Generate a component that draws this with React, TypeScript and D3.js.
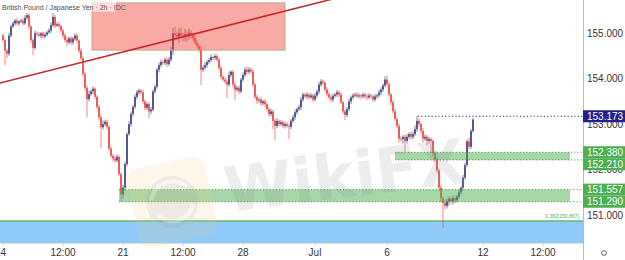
import React from "react";
import * as d3 from "d3";

// GBP/JPY 2h closes, Jun 14 – Jul 9 (12 bars per trading day)
const closes: number[] = [
  154.85, 154.62, 154.55, 154.95, 155.15, 155.22, 155.28, 155.22, 155.26, 155.28, 155.22, 155.34,
  155.40, 155.15, 154.85, 154.68, 155.00, 154.98, 154.95, 155.00, 154.93, 154.97, 155.02, 155.06,
  155.18, 155.36, 155.17, 155.20, 155.16, 155.06, 154.95, 154.85, 154.80, 154.89, 154.80, 154.88,
  154.95, 154.84, 154.62, 154.45, 154.10, 153.80, 153.55, 153.66, 153.72, 153.78, 153.60, 153.38,
  153.15, 152.93, 153.00, 153.05, 152.94, 152.46, 152.30, 152.24, 152.20, 152.28, 151.90, 151.45,
  151.60, 152.12, 152.78, 153.00, 153.22, 153.38, 153.60, 153.70, 153.74, 153.70, 153.50, 153.36,
  153.44, 153.28, 153.32, 153.72, 153.82, 154.20, 154.30, 154.37, 154.35, 154.42, 154.32, 154.42,
  154.62, 155.00, 154.96, 154.93, 155.00, 154.95, 154.92, 154.98, 154.94, 155.01, 154.96, 154.90,
  154.80, 154.72, 154.64, 154.20, 154.24, 154.30, 154.37, 154.41, 154.48, 154.46, 154.50, 154.42,
  154.24, 154.04, 153.98, 153.94, 153.87, 154.08, 154.15, 153.87, 153.76, 153.80, 153.72, 153.98,
  154.08, 154.20, 154.15, 154.20, 154.16, 153.87, 153.60, 153.52, 153.54, 153.46, 153.50, 153.44,
  153.33, 153.22, 153.28, 153.07, 152.96, 153.07, 153.00, 153.04, 152.96, 153.00, 152.96, 152.94,
  153.07, 153.15, 153.26, 153.33, 153.37, 153.54, 153.65, 153.61, 153.65, 153.59, 153.63, 153.54,
  153.63, 153.72, 153.87, 153.94, 153.91, 153.76, 153.66, 153.59, 153.54, 153.62, 153.65, 153.70,
  153.65, 153.48, 153.28, 153.20, 153.33, 153.50, 153.59, 153.63, 153.65, 153.61, 153.63, 153.61,
  153.65, 153.61, 153.59, 153.63, 153.61, 153.54, 153.61, 153.63, 153.70, 153.76, 153.85, 153.98,
  153.88, 153.65, 153.48, 153.28, 153.11, 152.96, 152.68, 152.67, 152.72, 152.63, 152.72, 152.78,
  152.72, 152.78, 152.89, 153.07, 153.00, 152.85, 152.68, 152.72, 152.63, 152.67, 152.63, 152.36,
  152.22, 151.98, 151.60, 151.37, 151.26, 151.20, 151.30, 151.36, 151.30, 151.37, 151.32, 151.40,
  151.50, 151.60, 151.82, 152.10, 152.62, 152.50, 152.85, 153.10,
];
const firstOpen = 154.95;

// Upper / lower wick lengths, in hundredths of a yen
const wickUp: number[] = [
  5, 3, 4, 6, 4, 5, 4, 6, 3, 4, 5, 6,
  5, 4, 3, 4, 6, 4, 5, 3, 4, 5, 4, 5,
  6, 9, 5, 4, 6, 3, 4, 5, 6, 3, 5, 4,
  5, 4, 3, 5, 4, 6, 5, 8, 4, 5, 3, 4,
  5, 6, 8, 5, 4, 3, 5, 4, 6, 5, 3, 4,
  6, 5, 4, 6, 5, 4, 6, 5, 4, 3, 5, 4,
  4, 5, 6, 4, 5, 4, 6, 5, 4, 5, 4, 6,
  8, 12, 15, 8, 10, 14, 6, 12, 8, 10, 6, 5,
  5, 6, 4, 8, 5, 6, 4, 5, 6, 3, 5, 4,
  4, 5, 3, 6, 5, 8, 4, 5, 6, 4, 5, 4,
  6, 5, 7, 6, 4, 5, 4, 5, 3, 6, 4, 5,
  4, 5, 6, 4, 5, 6, 3, 5, 4, 5, 4, 5,
  4, 5, 6, 4, 5, 6, 5, 4, 6, 3, 5, 4,
  5, 4, 6, 5, 4, 3, 5, 4, 6, 5, 4, 5,
  4, 5, 3, 4, 5, 6, 4, 5, 4, 6, 5, 4,
  5, 4, 6, 5, 4, 3, 5, 4, 6, 5, 4, 7,
  9, 5, 4, 5, 6, 4, 5, 6, 4, 5, 6, 4,
  5, 6, 8, 10, 5, 4, 6, 5, 4, 5, 4, 3,
  4, 5, 4, 6, 5, 8, 6, 5, 4, 6, 5, 4,
  5, 4, 6, 5, 4, 8, 4, 3,
];
const wickDown: number[] = [
  4, 32, 10, 5, 4, 3, 5, 4, 6, 3, 5, 4,
  4, 5, 6, 16, 4, 5, 3, 6, 4, 5, 4, 3,
  5, 4, 6, 3, 5, 4, 6, 5, 8, 4, 6, 5,
  4, 5, 6, 4, 5, 6, 40, 5, 4, 6, 5, 4,
  6, 46, 5, 4, 6, 5, 4, 6, 5, 4, 5, 16,
  10, 6, 5, 4, 6, 5, 4, 5, 6, 4, 5, 6,
  5, 15, 6, 4, 5, 4, 6, 5, 4, 5, 6, 4,
  5, 10, 12, 8, 14, 6, 10, 9, 12, 8, 7, 6,
  5, 4, 6, 34, 5, 4, 6, 5, 4, 6, 5, 4,
  6, 5, 4, 6, 30, 5, 4, 6, 23, 5, 6, 4,
  5, 4, 6, 5, 4, 6, 5, 8, 6, 5, 4, 6,
  5, 6, 4, 18, 31, 5, 6, 4, 5, 6, 4, 27,
  5, 4, 6, 5, 4, 6, 5, 4, 6, 5, 4, 5,
  4, 5, 6, 4, 5, 6, 5, 4, 6, 5, 4, 5,
  5, 4, 6, 11, 5, 4, 6, 5, 4, 5, 4, 6,
  4, 5, 6, 4, 5, 6, 4, 5, 4, 6, 5, 4,
  5, 4, 6, 5, 4, 6, 8, 5, 10, 24, 6, 5,
  6, 5, 4, 6, 5, 6, 8, 5, 10, 6, 27, 6,
  5, 6, 8, 10, 54, 8, 6, 10, 5, 8, 6, 5,
  5, 4, 6, 5, 4, 6, 5, 4,
];

// Time axis (bar index from Jun 14 00:00) and labels
const timeTickBars = [0, 30, 60, 90, 120, 156, 192, 240, 270];
const timeTickLabels = ["14", "12:00", "21", "12:00", "28", "Jul", "6", "12", "12:00"];
const priceTicks = [155, 154, 153, 152, 151];

// Resistance zone [startBar, endBar, top, bottom]
const resistanceZone = [44.5, 141, 155.67, 154.63];
// Support zones: [startBar, top, bottom]
const supportZones: number[][] = [
  [196, 152.38, 152.21],
  [58, 151.557, 151.29],
];
const supportEndBar = 283.5;
const fibLevel = 150.867;
const fibLabel = "0.382(150.867)";
// Trend line anchors [bar, price]
const trendA = [0, 153.92];
const trendB = [150, 155.59];
// Swing-high marker
const lastHigh = 153.173;
const lastHighBar = 207.5;

const W = 625;
const H = 260;
const plotR = 583;
const plotB = 243;

const UP = "#2b2e6e";
const DOWN = "#e8342f";
const GREEN = "#4caf50";
const AXIS_FONT = "'Liberation Sans', Arial, sans-serif";

export default function App() {
  const x = d3.scaleLinear().domain([0, 290]).range([3, plotR]);
  const y = d3.scaleLinear().domain([151, 155]).range([214.9, 33.3]);

  const candles = closes.map((c, i) => {
    const o = i === 0 ? firstOpen : closes[i - 1];
    return {
      i,
      o,
      c,
      h: Math.max(o, c) + wickUp[i] / 100,
      l: Math.min(o, c) - wickDown[i] / 100,
    };
  });

  // trend line extended across the plot
  const slope = (trendB[1] - trendA[1]) / (trendB[0] - trendA[0]);
  const tl = (b: number) => trendA[1] + slope * (b - trendA[0]);
  const tlX0 = -5;
  const tlX1 = 200;

  // price labels on the axis, pushed apart when they overlap
  const boxH = 12;
  const greenLabels: { v: number; cy: number }[] = [];
  supportZones.forEach((z) => {
    [z[1], z[2]].forEach((v) => {
      let cy = y(v);
      const prev = greenLabels[greenLabels.length - 1];
      if (prev && cy < prev.cy + boxH) cy = prev.cy + boxH;
      greenLabels.push({ v, cy });
    });
  });

  return (
    <svg
      width={W}
      height={H}
      style={{ position: "absolute", left: 0, top: 0, background: "#fff" }}
    >
      <defs>
        <clipPath id="plot">
          <rect x={0} y={0} width={plotR} height={plotB} />
        </clipPath>
      </defs>

      <g clipPath="url(#plot)">
        {/* blue zone below the fib level */}
        <rect
          x={0}
          y={y(fibLevel)}
          width={plotR}
          height={plotB - y(fibLevel)}
          fill="#90caf9"
        />
        <line
          x1={0}
          x2={plotR}
          y1={y(fibLevel)}
          y2={y(fibLevel)}
          stroke="#66bb6a"
          strokeWidth={1.5}
        />
        <text
          x={579}
          y={y(fibLevel) - 2.5}
          fontSize={5}
          fill="#4caf50"
          textAnchor="end"
          fontFamily={AXIS_FONT}
        >
          {fibLabel}
        </text>

        {/* candles */}
        {candles.map((d) => {
          const col = d.c >= d.o ? UP : DOWN;
          const cx = x(d.i);
          const top = y(Math.max(d.o, d.c));
          const bot = y(Math.min(d.o, d.c));
          return (
            <g key={d.i}>
              <line
                x1={cx}
                x2={cx}
                y1={y(d.h)}
                y2={y(d.l)}
                stroke={col}
                strokeWidth={0.8}
                strokeOpacity={0.75}
              />
              <rect
                x={cx - 0.7}
                y={top}
                width={1.4}
                height={Math.max(0.8, bot - top)}
                fill={col}
              />
            </g>
          );
        })}

        {/* resistance zone */}
        <rect
          x={x(resistanceZone[0])}
          y={y(resistanceZone[2])}
          width={x(resistanceZone[1]) - x(resistanceZone[0])}
          height={y(resistanceZone[3]) - y(resistanceZone[2])}
          fill="#f44336"
          fillOpacity={0.45}
          stroke="#b9a98a"
          strokeWidth={1}
        />

        {/* support zones */}
        {supportZones.map((z, k) => (
          <g key={k}>
            <rect
              x={x(z[0])}
              y={y(z[1])}
              width={x(supportEndBar) - x(z[0])}
              height={y(z[2]) - y(z[1])}
              fill={GREEN}
              fillOpacity={0.5}
            />
            {[z[1], z[2]].map((v, j) => (
              <line
                key={j}
                x1={x(z[0])}
                x2={plotR}
                y1={y(v)}
                y2={y(v)}
                stroke="#2e7d32"
                strokeWidth={0.8}
                strokeDasharray="1.2,2"
              />
            ))}
          </g>
        ))}

        {/* trend line */}
        <line
          x1={x(tlX0)}
          x2={x(tlX1)}
          y1={y(tl(tlX0))}
          y2={y(tl(tlX1))}
          stroke="#c62828"
          strokeWidth={1.5}
        />

        {/* swing-high dotted level */}
        <line
          x1={x(lastHighBar)}
          x2={plotR}
          y1={y(lastHigh)}
          y2={y(lastHigh)}
          stroke="#2a2a8a"
          strokeWidth={1}
          strokeDasharray="1.2,2.2"
        />
      </g>

      {/* title */}
      <rect x={0} y={2} width={116} height={9.5} fill="#fff" fillOpacity={0.65} />
      <text x={2} y={9.5} fontSize={7} fill="#4a4a4a" fontFamily={AXIS_FONT}>
        British Pound / Japanese Yen · 2h · IDC
      </text>

      {/* axes */}
      <line x1={plotR + 0.5} x2={plotR + 0.5} y1={0} y2={H} stroke="#b8bbc3" strokeWidth={1} />
      <line x1={0} x2={plotR} y1={plotB + 0.5} y2={plotB + 0.5} stroke="#e0e3eb" strokeWidth={1} />

      {priceTicks.map((p) => (
        <text
          key={p}
          x={587}
          y={y(p) + 3.6}
          fontSize={10}
          fill="#333"
          fontFamily={AXIS_FONT}
        >
          {p.toFixed(3)}
        </text>
      ))}

      {timeTickBars.map((b, k) => (
        <g key={k}>
          <line x1={x(b)} x2={x(b)} y1={plotB} y2={plotB + 3} stroke="#c8cad0" />
          <text
            x={k === 0 ? x(b) - 2.5 : x(b)}
            y={256}
            fontSize={10}
            fill="#333"
            textAnchor="middle"
            fontFamily={AXIS_FONT}
          >
            {timeTickLabels[k]}
          </text>
        </g>
      ))}
      <circle cx={604} cy={253} r={2.4} fill="none" stroke="#555" strokeWidth={0.9} />

      {/* price labels */}
      <rect x={plotR} y={y(lastHigh) - 6} width={W - plotR} height={boxH} fill="#211f8a" />
      <text
        x={587}
        y={y(lastHigh) + 3.6}
        fontSize={10}
        fill="#fff"
        fontFamily={AXIS_FONT}
      >
        {lastHigh.toFixed(3)}
      </text>
      {greenLabels.map((g, k) => (
        <g key={k}>
          <rect x={plotR} y={g.cy - 6} width={W - plotR} height={boxH} fill={GREEN} />
          <text x={587} y={g.cy + 3.6} fontSize={10} fill="#fff" fontFamily={AXIS_FONT}>
            {g.v.toFixed(3)}
          </text>
        </g>
      ))}

      {/* WikiFX watermark */}
      <g opacity={0.45} style={{ pointerEvents: "none" }}>
        <g transform="translate(172,202) rotate(-12)">
          <rect x={-40} y={-40} width={80} height={80} rx={12} fill="#f3d27a" fillOpacity={0.35} />
          <circle r={26} fill="#9e9e9e" fillOpacity={0.35} />
          <path d="M-20,-6 A22,22 0 0 1 18,-12" fill="none" stroke="#fff" strokeOpacity={0.6} strokeWidth={4} />
          <path d="M-16,10 A20,20 0 0 0 20,6" fill="none" stroke="#fff" strokeOpacity={0.6} strokeWidth={4} />
        </g>
        <text
          x={227}
          y={212}
          fontSize={62}
          fontWeight="bold"
          fill="#8a8a8a"
          fillOpacity={0.35}
          fontFamily="'DejaVu Sans', sans-serif"
          transform="rotate(-7 227 212)"
        >
          WikiFX
        </text>
      </g>
    </svg>
  );
}
